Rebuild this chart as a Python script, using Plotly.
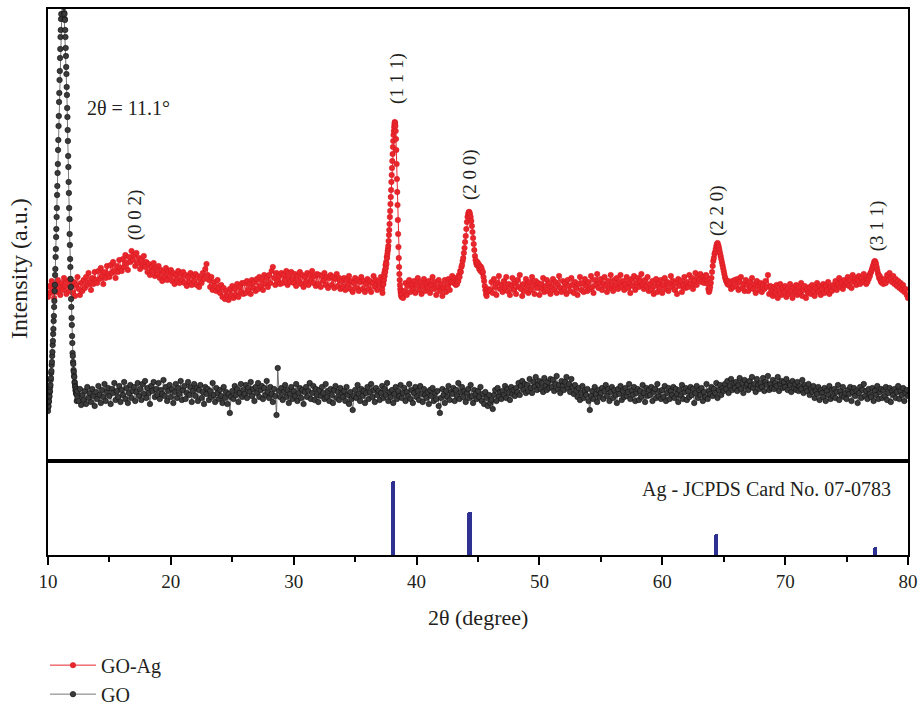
import numpy as np
import plotly.graph_objects as go
from plotly.subplots import make_subplots

# ---------------------------------------------------------------------------
# XRD patterns (intensity in arbitrary units), stored as scan segments.
# Each segment: (start 2-theta, step in degrees, intensities)
# ---------------------------------------------------------------------------

# GO-Ag pattern
ag_10_37 = [164, 175, 168, 180, 172, 163, 177, 169, 181, 174,
            166, 178, 171, 183, 175, 167, 180, 170, 182, 176,
            168, 179, 165, 176, 184, 172, 166, 178, 170, 181,
            173, 184, 176, 188, 179, 171, 183, 177, 189, 181,
            178, 190, 182, 193, 185, 177, 189, 183, 195, 187,
            184, 196, 188, 199, 190, 183, 195, 189, 201, 193,
            190, 202, 194, 206, 198, 191, 204, 199, 210, 201,
            206, 195, 208, 198, 203, 192, 201, 196, 205, 194,
            199, 189, 197, 186, 194, 190, 198, 185, 193, 187,
            195, 183, 191, 180, 189, 184, 193, 181, 190, 185,
            191, 180, 188, 177, 186, 182, 190, 178, 187, 181,
            189, 178, 186, 175, 184, 179, 188, 176, 185, 180,
            187, 176, 185, 174, 183, 178, 188, 182, 192, 197,
            186, 181, 174, 184, 171, 179, 175, 170, 181, 173,
            168, 176, 164, 173, 162, 170, 165, 161, 172, 166,
            175, 163, 172, 166, 177, 164, 174, 169, 178, 167,
            178, 168, 180, 171, 177, 167, 181, 173, 179, 170,
            182, 172, 184, 175, 181, 171, 186, 177, 183, 174,
            186, 178, 190, 194, 183, 176, 188, 180, 185, 177,
            188, 178, 186, 181, 190, 176, 185, 179, 189, 182,
            178, 187, 175, 185, 180, 189, 177, 186, 174, 184,
            179, 188, 176, 186, 181, 190, 178, 185, 175, 187,
            177, 186, 174, 185, 180, 188, 176, 184, 173, 183,
            186, 176, 184, 173, 182, 187, 175, 183, 172, 180,
            174, 183, 171, 181, 176, 185, 172, 180, 169, 178,
            183, 173, 181, 170, 179, 184, 172, 180, 169, 177,
            182, 172, 180, 169, 178, 185, 174, 181, 171, 179,
            176, 184]
ag_111 = [172, 168, 176, 180, 177, 184, 181, 188, 185, 191, 189, 196, 193, 199, 197, 204,
          203, 207, 210, 212, 215, 220, 226, 231, 237, 244, 250, 257, 264, 271, 279, 286,
          293, 300, 307, 314, 320, 326, 330, 334, 337, 339, 338, 335, 330, 322, 311, 297,
          282, 269, 256, 241, 227, 214, 203, 194, 187, 181, 176, 172, 169, 166, 170, 164,
          167]
ag_39_43 = [163,
            170, 178, 166, 175, 181, 169, 177, 172, 180, 168,
            176, 183, 171, 179, 167, 175, 182, 170, 178, 173,
            180, 168, 176, 184, 172, 179, 166, 174, 181, 170,
            177, 165, 173, 181, 169, 176, 182, 171, 179, 185,
            178, 183]
ag_200 = [176, 181, 177, 183, 180, 186, 184, 190, 189, 194, 196, 200, 203, 208, 213, 219,
          225, 232, 239, 244, 247, 249, 249, 247, 244, 240, 235, 229, 223, 217, 211, 205,
          201, 198, 196, 199, 195, 197, 192, 195, 190, 194, 192, 188, 189, 184, 180, 175,
          171, 167, 165, 169, 172]
ag_46_63 = [170,
            171, 179, 168, 182, 174, 166, 178, 185, 172, 176,
            169, 180, 173, 184, 170, 177, 166, 175, 183, 171,
            178, 167, 181, 174, 186, 172, 165, 177, 170, 182,
            175, 168, 179, 171, 184, 176, 167, 180, 173, 178,
            166, 177, 172, 183, 169, 175, 181, 170, 178, 167,
            174, 182, 171, 179, 168, 176, 185, 173, 169, 180,
            172, 178, 167, 181, 175, 170, 183, 176, 168, 179,
            173, 166, 177, 184, 171, 178, 169, 182, 175, 170,
            179, 172, 185, 174, 168, 181, 176, 187, 173, 178,
            182, 171, 177, 184, 175, 169, 180, 173, 186, 176,
            170, 181, 175, 183, 172, 178, 186, 174, 180, 171,
            177, 184, 173, 179, 168, 182, 175, 185, 171, 178,
            183, 174, 180, 187, 176, 172, 181, 175, 184, 170,
            177, 171, 180, 167, 175, 182, 169, 178, 173, 181,
            168, 176, 183, 172, 179, 170, 177, 185, 174, 180,
            171, 178, 167, 182, 175, 180, 169, 176, 184, 173,
            179, 174, 186, 177, 183, 172, 180, 188, 176, 184,
            181, 187, 179, 184]
ag_220 = [178, 183, 181, 186, 185, 180, 177, 172, 169, 171, 174, 178,
          183, 189, 195, 200, 203, 207, 209, 212, 215, 217, 218, 216, 214, 211, 208, 205,
          202, 199, 196, 193, 190, 187, 184, 182, 180, 179, 177, 180, 176]
ag_65_76 = [178, 172, 180, 174, 181,
            175, 182, 171, 179, 184, 173, 177, 170, 181, 176,
            170, 179, 174, 183, 172, 177, 168, 180, 175, 171,
            178, 169, 176, 172, 180, 174, 186, 167, 175, 170,
            165, 174, 168, 176, 163, 171, 177, 166, 173, 169,
            175, 164, 172, 167, 177, 170, 163, 174, 168, 176,
            166, 173, 169, 178, 165, 171, 175, 163, 172, 168,
            174, 167, 176, 170, 165, 173, 178, 169, 175, 166,
            172, 177, 168, 175, 171, 179, 167, 174, 170, 176,
            173, 180, 171, 177, 183, 174, 179, 172, 181, 176,
            178, 184, 175, 181, 173, 186, 179, 183, 176, 182,
            185, 177, 183, 179, 187, 180]
ag_311 = [177, 182, 179, 184, 182, 186, 185, 188,
          189, 191, 193, 195, 197, 199, 200, 199, 197, 194, 191, 188, 186, 183, 185, 181,
          179, 182, 178, 181, 177]
ag_78_80 = [182, 178, 186, 181, 188, 183, 179, 185, 177,
            182, 175, 180, 173, 178, 171, 176, 169, 172, 166,
            163]

# GO pattern
go_peak = [50, 54, 55, 59, 60, 64, 65, 69, 70, 74,
           76, 81, 83, 88, 90, 96, 99, 105, 109, 116,
           120, 127, 132, 140, 145, 154, 160, 170, 176, 186,
           192, 204, 212, 224, 232, 244, 253, 266, 275, 288,
           297, 311, 321, 335, 345, 359, 368, 381, 390, 403,
           412, 424, 431, 442, 447, 456, 461, 469, 471, 475,
           473, 472, 467, 464, 457, 454, 448, 447, 442, 441,
           431, 424, 413, 405, 394, 387, 374, 366, 353, 344,
           331, 320, 305, 294, 279, 268, 253, 242, 227, 216,
           202, 194, 182, 174, 162, 154, 143, 136, 125, 118,
           108, 105, 99, 97, 91, 89, 85, 84, 79, 78,
           75, 74, 71, 70, 68, 67, 72, 60, 66, 70,
           63]
go_baseline = [60, 72, 56, 66, 61,
               70, 57, 74, 63, 68, 59, 72, 65, 55, 69,
               62, 75, 66, 58, 71, 64, 77, 60, 69, 73,
               65, 57, 72, 68, 78, 61, 70, 64, 75, 59,
               71, 66, 79, 62, 73, 58, 68, 76, 63, 70,
               74, 60, 69, 78, 65, 72, 61, 77, 67, 80,
               63, 73, 68, 57, 75, 70, 79, 64, 72, 66,
               78, 62, 71, 67, 81, 65, 74, 60, 70, 76,
               64, 72, 58, 69, 77, 63, 73, 67, 80, 61,
               71, 75, 62, 68, 79, 66, 74, 59, 70, 77,
               65, 73, 60, 71, 76, 63, 69, 57, 74, 67,
               72, 61, 70, 64, 78, 66, 59, 73, 68, 62,
               71, 65, 58, 74, 63, 69, 57, 67, 48, 64,
               70, 62, 75, 66, 72, 59, 68, 77, 64, 71,
               67, 76, 63, 73, 69, 79, 65, 72, 60, 74,
               68, 78, 64, 71, 75, 62, 73, 66, 80, 69,
               63, 74, 67, 59, 72, 65, 46, 93, 70, 64,
               73, 61, 69, 76, 64, 71, 58, 67, 74, 62,
               70, 65, 77, 60, 68, 73, 63, 71, 57, 69,
               74, 64, 70, 78, 62, 68, 75, 61, 72, 66,
               59, 71, 65, 74, 68, 62, 77, 64, 70, 60,
               72, 66, 58, 71, 75, 63, 69, 61, 73, 67,
               64, 70, 60, 74, 66, 57, 69, 62, 51, 65,
               71, 63, 76, 67, 60, 72, 65, 70, 58, 68,
               74, 62, 69, 77, 64, 71, 59, 73, 66, 70,
               61, 68, 75, 63, 72, 66, 78, 60, 69, 64,
               71, 58, 67, 74, 62, 70, 65, 76, 63, 68,
               73, 60, 69, 65, 77, 62, 71, 58, 68, 74,
               64, 70, 61, 75, 67, 59, 72, 66, 63, 69,
               57, 71, 65, 73, 60, 68, 62, 70, 55, 48,
               63, 72, 66, 58, 70, 64, 75, 61, 69, 67,
               73, 60, 71, 65, 78, 62, 69, 74, 64, 70,
               59, 68, 72, 63, 76, 65, 58, 71, 67, 62,
               70, 64, 74, 60, 67, 57, 69, 63, 55, 66,
               58, 61, 52, 66, 71, 60, 73, 65, 69, 62,
               70, 66, 75, 63, 72, 68, 61, 74, 67, 71,
               65, 73, 69, 78, 66, 75, 80, 71, 77, 68,
               76, 70, 82, 73, 68, 79, 74, 84, 71, 77,
               80, 72, 78, 69, 83, 75, 71, 79, 73, 82,
               74, 81, 70, 77, 85, 72, 76, 68, 80, 75,
               71, 79, 84, 73, 77, 69, 82, 74, 67, 76,
               70, 64, 73, 61, 68, 75, 63, 70, 66, 72,
               60, 51, 65, 70, 62, 74, 67, 59, 71, 64,
               68, 73, 62, 70, 76, 65, 72, 60, 69, 74,
               63, 71, 66, 58, 72, 67, 75, 61, 70, 64,
               73, 65, 69, 77, 62, 71, 66, 74, 60, 68,
               72, 61, 70, 64, 76, 68, 59, 73, 65, 71,
               66, 74, 60, 69, 72, 63, 77, 65, 70, 62,
               71, 64, 75, 60, 68, 73, 62, 70, 66, 74,
               63, 72, 67, 59, 71, 65, 76, 62, 69, 73,
               61, 70, 64, 74, 66, 72, 58, 68, 75, 63,
               71, 66, 73, 60, 69, 64, 77, 62, 70, 67,
               74, 65, 72, 68, 78, 63, 71, 76, 66, 73,
               70, 77, 72, 80, 68, 75, 82, 71, 78, 73,
               79, 70, 76, 83, 72, 78, 68, 81, 74, 77,
               71, 80, 75, 84, 73, 77, 69, 82, 76, 72,
               78, 74, 83, 70, 79, 76, 85, 71, 77, 73,
               81, 72, 78, 75, 84, 70, 77, 80, 73, 79,
               74, 82, 71, 78, 76, 69, 80, 73, 77, 71,
               79, 70, 75, 72, 81, 68, 76, 73, 70, 77,
               66, 72, 69, 75, 63, 70, 67, 74, 61, 71,
               68, 64, 73, 60, 70, 66, 75, 62, 71, 65,
               72, 63, 69, 76, 61, 70, 66, 74, 64, 68,
               62, 71, 67, 74, 60, 69, 73, 65, 70, 58,
               68, 74, 63, 71, 77, 65, 70, 62, 72, 67,
               64, 73, 60, 70, 66, 75, 62, 69, 72, 63,
               71, 65, 74, 61, 68, 73, 59, 70, 66, 72,
               63, 69, 75, 62, 70, 66, 73, 60, 68, 71,
               65]

AG_SEGMENTS = [(10.0, 0.1, ag_10_37), (37.2, 0.025, ag_111), (38.9, 0.1, ag_39_43),
               (43.2, 0.05, ag_200), (45.9, 0.1, ag_46_63), (63.4, 0.05, ag_220),
               (65.5, 0.1, ag_65_76), (76.6, 0.05, ag_311), (78.1, 0.1, ag_78_80)]
GO_SEGMENTS = [(10.0, 0.02, go_peak), (12.5, 0.1, go_baseline)]

# Ag reference lines (JCPDS 07-0783): positions and relative intensities
ref_two_theta = [38.1, 44.3, 64.4, 77.3]
ref_intensity = [100, 58, 28, 11]

# Miller-index labels for the Ag/GO reflections
hkl_labels = ["(0 0 2)", "(1 1 1)", "(2 0 0)", "(2 2 0)", "(3 1 1)"]
hkl_two_theta = [17.1, 38.4, 44.35, 64.45, 77.5]
hkl_height = [246, 383, 286, 251, 235]


def assemble(segments):
    xs, ys = [], []
    for start, step, values in segments:
        xs.append(np.round(start + step * np.arange(len(values)), 3))
        ys.append(np.asarray(values, dtype=float))
    return np.concatenate(xs), np.concatenate(ys)


ag_x, ag_y = assemble(AG_SEGMENTS)
go_x, go_y = assemble(GO_SEGMENTS)

FONT = "Liberation Serif"
TEXT = "#231f20"

fig = make_subplots(rows=2, cols=1, shared_xaxes=True, vertical_spacing=0,
                    row_heights=[452 / 546, 94 / 546])

fig.add_trace(go.Scatter(
    x=ag_x, y=ag_y, mode="lines+markers", name="GO-Ag",
    line=dict(color="#e8262c", width=1),
    marker=dict(color="#e8262c", size=5.5, line=dict(color="#d71920", width=0.5)),
), row=1, col=1)

fig.add_trace(go.Scatter(
    x=go_x, y=go_y, mode="lines+markers", name="GO",
    line=dict(color="#555555", width=0.8),
    marker=dict(color="#3a3a3a", size=5.5, line=dict(color="#111111", width=0.6)),
), row=1, col=1)

fig.add_trace(go.Bar(
    x=ref_two_theta, y=ref_intensity, width=0.35, showlegend=False,
    marker=dict(color="#2e3192", line=dict(width=0), cornerradius=2),
), row=2, col=1)

axis_line = dict(showline=True, linewidth=2, linecolor="black", mirror=True,
                 showgrid=False, zeroline=False)

fig.update_xaxes(range=[10, 80], **axis_line)
fig.update_xaxes(showticklabels=False, ticks="", row=1, col=1)
fig.update_xaxes(
    ticks="outside", ticklen=8, tickwidth=2, tickcolor="black",
    tickmode="linear", tick0=10, dtick=10,
    minor=dict(ticks="outside", dtick=5, ticklen=5, tickwidth=2, tickcolor="black"),
    tickfont=dict(family=FONT, size=19, color=TEXT),
    row=2, col=1)
fig.update_yaxes(showticklabels=False, ticks="", **axis_line)
fig.update_yaxes(range=[0, 452], row=1, col=1)
fig.update_yaxes(range=[0, 127], row=2, col=1)

annotations = [
    dict(x=13.0, y=353, xref="x", yref="y", text="2θ = 11.1°", showarrow=False,
         xanchor="left", yanchor="middle", font=dict(family=FONT, size=20, color=TEXT)),
    dict(x=78.8, y=88, xref="x2", yref="y2", text="Ag - JCPDS Card No. 07-0783",
         showarrow=False, xanchor="right", yanchor="middle",
         font=dict(family=FONT, size=20, color=TEXT)),
    dict(x=-0.033, y=0.525, xref="paper", yref="paper", text="Intensity (a.u.)",
         textangle=-90, showarrow=False, xanchor="center", yanchor="middle",
         font=dict(family=FONT, size=24, color=TEXT)),
    dict(x=0.5, y=-0.115, xref="paper", yref="paper", text="2θ (degree)",
         showarrow=False, xanchor="center", yanchor="middle",
         font=dict(family=FONT, size=22, color=TEXT)),
]
for label, tx, ty in zip(hkl_labels, hkl_two_theta, hkl_height):
    annotations.append(dict(x=tx, y=ty, xref="x", yref="y", text=label, textangle=-90,
                            showarrow=False, xanchor="center", yanchor="middle",
                            font=dict(family=FONT, size=19, color=TEXT)))

fig.update_layout(
    width=921, height=707, autosize=False,
    margin=dict(l=48, r=13, t=9, b=152, autoexpand=False),
    paper_bgcolor="white", plot_bgcolor="white",
    font=dict(family=FONT, size=19, color=TEXT),
    annotations=annotations,
    bargap=0,
    showlegend=True,
    legend=dict(x=-0.0035, y=-0.166, xanchor="left", yanchor="top",
                font=dict(family=FONT, size=20, color=TEXT),
                bgcolor="rgba(0,0,0,0)", itemwidth=46),
)

fig.write_html("out.html")
